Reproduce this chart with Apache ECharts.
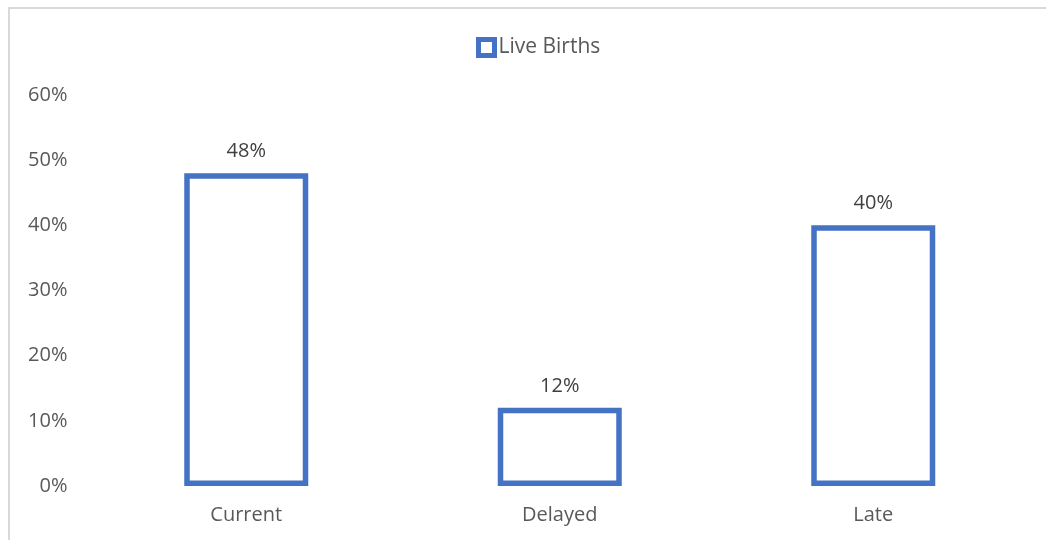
<!DOCTYPE html>
<html><head><meta charset="utf-8">
<script src="https://cdn.jsdelivr.net/npm/echarts@6/dist/echarts.min.js"></script>
<style>html,body{margin:0;padding:0;background:#fff}#c{width:1046px;height:540px}</style>
</head><body><div id="c"></div>
<script>
const categories = ['Current', 'Delayed', 'Late'];
const liveBirths = [0.48, 0.12, 0.40];
const seriesName = 'Live Births';

const chart = echarts.init(document.getElementById('c'));
const font = "'Open Sans', 'Liberation Sans', sans-serif";
chart.setOption({
  animation: false,
  graphic: [{
    type: 'rect', left: 8, top: 7, z: -1,
    shape: { width: 1100, height: 600 },
    style: { fill: '#fff', stroke: '#d9d9d9', lineWidth: 2 }
  }],
  legend: {
    top: 37, left: 476, padding: 0,
    itemWidth: 16, itemHeight: 16, itemGap: 4,
    icon: 'rect',
    itemStyle: { borderWidth: 5 },
    textStyle: { color: '#595959', fontSize: 21, fontFamily: font, padding: [0, 0, 0, -1] },
    data: [seriesName]
  },
  grid: { left: 89.5, right: 16, top: 95, bottom: 54 },
  xAxis: {
    type: 'category', data: categories,
    axisLine: { show: false }, axisTick: { show: false },
    axisLabel: { color: '#595959', fontSize: 20, fontFamily: font, margin: 19 }
  },
  yAxis: {
    type: 'value', min: 0, max: 0.6, interval: 0.1,
    splitLine: { show: false }, axisLine: { show: false }, axisTick: { show: false },
    axisLabel: { color: '#595959', fontSize: 20, fontFamily: font, margin: 22,
      formatter: v => Math.round(v * 100) + '%' }
  },
  series: [{
    name: seriesName, type: 'bar', data: liveBirths, barWidth: 124,
    itemStyle: { color: '#ffffff', borderColor: '#4472C4', borderWidth: 5.5 },
    label: { show: true, position: 'top', distance: 12, color: '#404040', fontSize: 20, fontFamily: font,
      formatter: p => Math.round(p.value * 100) + '%' }
  }]
});
</script></body></html>
